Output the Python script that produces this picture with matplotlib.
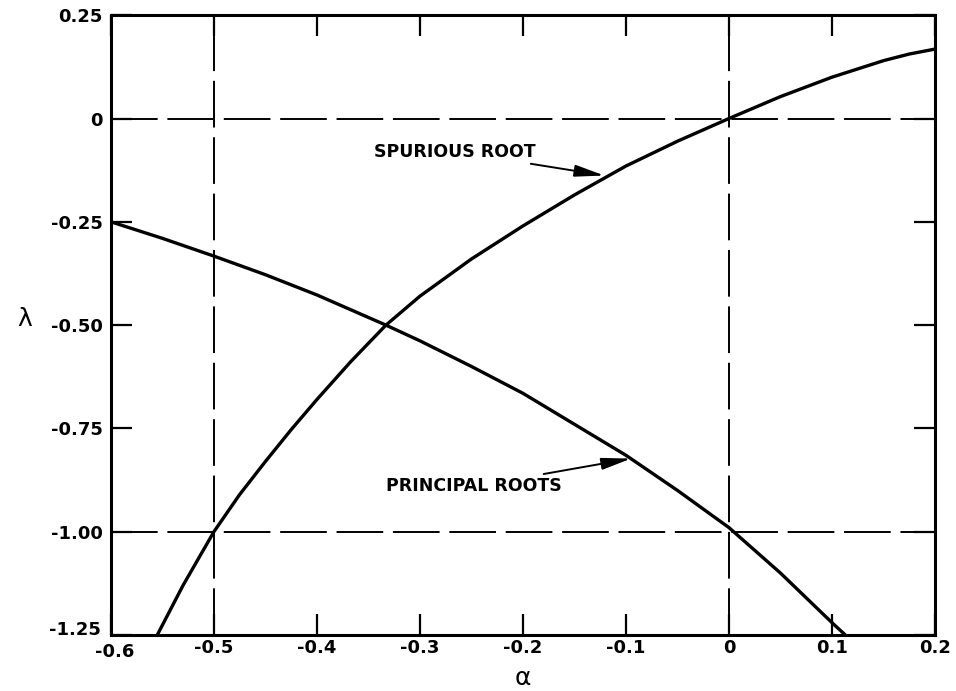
import matplotlib.pyplot as plt
from matplotlib.transforms import ScaledTranslation

plt.rcParams['font.family'] = ['DejaVu Sans']
plt.rcParams['axes.unicode_minus'] = False

# spurious root of the characteristic equation
alpha_spur = [-0.555, -0.53, -0.5, -0.475, -0.45, -0.425, -0.4, -0.367, -0.333,
              -0.3, -0.25, -0.2, -0.15, -0.1, -0.05, 0.0, 0.05, 0.1, 0.15,
              0.175, 0.2]
lam_spur = [-1.25, -1.13, -1.0, -0.91, -0.83, -0.753, -0.68, -0.588, -0.5,
            -0.43, -0.34, -0.26, -0.185, -0.115, -0.055, 0.0, 0.053, 0.10,
            0.140, 0.156, 0.168]

# principal roots
alpha_prin = [-0.6, -0.55, -0.5, -0.45, -0.4, -0.333, -0.3, -0.25, -0.2,
              -0.15, -0.1, -0.05, 0.0, 0.05, 0.1, 0.113]
lam_prin = [-0.25, -0.29, -0.333, -0.378, -0.427, -0.5, -0.538, -0.6, -0.665,
            -0.74, -0.815, -0.9, -0.99, -1.10, -1.22, -1.25]

x_ticks = [-0.6, -0.5, -0.4, -0.3, -0.2, -0.1, 0.0, 0.1, 0.2]
x_labels = ['-0.6', '-0.5', '-0.4', '-0.3', '-0.2', '-0.1', '0', '0.1', '0.2']
y_ticks = [0.25, 0.0, -0.25, -0.5, -0.75, -1.0, -1.25]
y_labels = ['0.25', '0', '-0.25', '-0.50', '-0.75', '-1.00', '-1.25']

ref_alpha = [-0.5, 0.0]
ref_lam = [0.0, -1.0]

fig = plt.figure(figsize=(9.56, 6.91), dpi=100)
ax = fig.add_axes([0.116, 0.081, 0.862, 0.897])

for a in ref_alpha:
    ax.axvline(a, color='black', lw=1.4, dashes=(24, 5), zorder=1)
for l in ref_lam:
    ax.axhline(l, color='black', lw=1.4, dashes=(24, 5), zorder=1)

ax.plot(alpha_spur, lam_spur, color='black', lw=2.4, zorder=3)
ax.plot(alpha_prin, lam_prin, color='black', lw=2.4, zorder=3)

arrow = dict(arrowstyle='-|>,head_length=0.9,head_width=0.18', color='black',
             lw=1.4, mutation_scale=20, shrinkA=2, shrinkB=0)
ax.annotate('SPURIOUS ROOT', xy=(-0.121, -0.138), xytext=(-0.188, -0.08),
            ha='right', va='center', fontsize=12.5, fontweight='bold',
            arrowprops=arrow)
ax.annotate('PRINCIPAL ROOTS', xy=(-0.095, -0.823), xytext=(-0.162, -0.89),
            ha='right', va='center', fontsize=12.5, fontweight='bold',
            arrowprops=arrow)

ax.set_xlim(-0.6, 0.2)
ax.set_ylim(-1.25, 0.25)
ax.set_xticks(x_ticks)
ax.set_xticklabels(x_labels)
ax.set_yticks(y_ticks)
ax.set_yticklabels(y_labels)
ax.tick_params(direction='in', length=15, width=1.6, top=True, right=True,
               labelsize=13)
ax.tick_params(axis='x', pad=3)
ax.tick_params(axis='y', pad=6)
for lab in ax.get_xticklabels() + ax.get_yticklabels():
    lab.set_fontweight('bold')
for s in ax.spines.values():
    s.set_linewidth(2.2)

# the corner labels sit close together: nudge them apart
xl0 = ax.get_xticklabels()[0]
xl0.set_transform(xl0.get_transform() + ScaledTranslation(3 / 72, -3 / 72, fig.dpi_scale_trans))
yl0 = ax.get_yticklabels()[-1]
yl0.set_transform(yl0.get_transform() + ScaledTranslation(-1 / 72, 5 / 72, fig.dpi_scale_trans))

ax.set_xlabel('α', fontsize=18, labelpad=3)
ax.set_ylabel('λ', fontsize=18, rotation=0, labelpad=0)
ax.yaxis.set_label_coords(-0.105, 0.49)

fig.savefig('out.png', dpi=100)
